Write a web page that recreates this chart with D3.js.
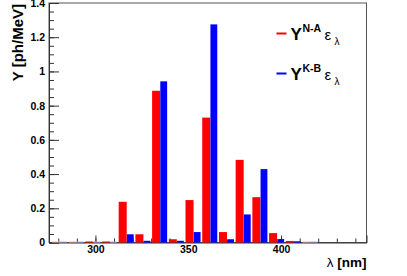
<!DOCTYPE html>
<html>
<head>
<meta charset="utf-8">
<script src="https://cdn.jsdelivr.net/npm/d3@7"></script>
<style>
  html, body { margin: 0; padding: 0; background: #fff; }
  text { font-family: "Liberation Sans", Arial, sans-serif; }
</style>
</head>
<body>
<div id="chart"></div>
<script>
// bin low edges (nm), 9 nm wide
const binLow = [275, 284, 293, 302, 311, 320, 329, 338, 347, 356, 365, 374, 383, 392, 401, 410]
const binWidth = 9

// Y^{N-A} eps_lambda and Y^{K-B} eps_lambda, ph/MeV
const yieldNA = [0, 0, 0.003, 0.003, 0.238, 0.048, 0.887, 0.019, 0.248, 0.73, 0.061, 0.483, 0.265, 0.055, 0.009, 0]
const yieldKB = [0, 0, 0, 0, 0.048, 0.01, 0.942, 0.01, 0.061, 1.275, 0.019, 0.164, 0.429, 0.02, 0.007, 0]

const xMajor = [300, 350, 400]
const yMajor = [0, 0.2, 0.4, 0.6, 0.8, 1, 1.2, 1.4]

const width = 407
const height = 276
const margin = { top: 3, right: 40.5, bottom: 33.5, left: 49 }

const x = d3.scaleLinear().domain([275, 446]).range([margin.left, width - margin.right])
const y = d3.scaleLinear().domain([0, 1.4]).range([height - margin.bottom, margin.top])

const svg = d3.select("#chart")
  .append("svg")
  .attr("width", width)
  .attr("height", height)

// frame
svg.append("rect")
  .attr("x", margin.left)
  .attr("y", margin.top)
  .attr("width", width - margin.right - margin.left)
  .attr("height", height - margin.bottom - margin.top)
  .attr("fill", "none")
  .attr("stroke", "#555")

// axes (ticks point inward like ROOT)
const yAxis = svg.append("g")
  .attr("transform", `translate(${margin.left},0)`)
  .call(d3.axisLeft(y).tickValues(yMajor).tickSize(-10).tickPadding(4)
    .tickFormat(d => d3.format("")(+d.toFixed(1))))
yAxis.selectAll("text").attr("font-size", 10.5).attr("font-weight", "bold").attr("fill", "#000")

svg.append("g")
  .attr("transform", `translate(${margin.left},0)`)
  .call(d3.axisLeft(y).tickValues(d3.range(0, 1.4001, 0.05)).tickSize(-5).tickFormat(""))
  .call(g => g.select(".domain").remove())

const xAxis = svg.append("g")
  .attr("transform", `translate(0,${height - margin.bottom})`)
  .call(d3.axisBottom(x).tickValues(xMajor).tickSize(-7).tickPadding(3))
xAxis.selectAll("text").attr("font-size", 10.5).attr("font-weight", "bold").attr("fill", "#000")

svg.append("g")
  .attr("transform", `translate(0,${height - margin.bottom})`)
  .call(d3.axisBottom(x).tickValues(d3.range(280, 441, 10)).tickSize(-4).tickFormat(""))
  .call(g => g.select(".domain").remove())

svg.selectAll(".domain, .tick line").attr("stroke", "#333")

// bars, side by side within each bin
const bw = x(275 + binWidth) - x(275)
const series = [
  { values: yieldNA, color: "#ff0000", faint: "#ffb4b4", offset: 0.17, w: 0.48 },
  { values: yieldKB, color: "#0000ff", faint: "#b4b4ff", offset: 0.66, w: 0.41 },
]

series.forEach(s => {
  svg.append("g")
    .selectAll("rect")
    .data(binLow.map((lo, i) => ({ lo, v: s.values[i] })))
    .join("rect")
    .attr("x", d => x(d.lo) + s.offset * bw)
    .attr("width", s.w * bw)
    .attr("y", d => d.v > 0 ? Math.min(y(d.v), y(0) - 1) : y(0) - 1)
    .attr("height", d => d.v > 0 ? Math.max(y(0) - y(d.v), 1) : 1)
    .attr("fill", d => d.v > 0 ? s.color : s.faint)
})

// axis titles
svg.append("text")
  .attr("transform", `translate(22.5,4) rotate(-90)`)
  .attr("text-anchor", "end")
  .attr("font-size", 15)
  .attr("font-weight", "bold")
  .text("Y [ph/MeV]")

const xt = svg.append("text")
  .attr("x", width - margin.right)
  .attr("y", 267)
  .attr("text-anchor", "end")
  .attr("font-size", 13.5)
xt.append("tspan").text("λ ")
xt.append("tspan").attr("font-weight", "bold").text("[nm]")

// legend
const legend = [
  { sup: "N-A", color: "#ff0000" },
  { sup: "K-B", color: "#0000ff" },
]
legend.forEach((d, i) => {
  const g = svg.append("g").attr("transform", `translate(0,${i * 40})`)
  g.append("line")
    .attr("x1", 276.5).attr("x2", 286.5)
    .attr("y1", 33.5).attr("y2", 33.5)
    .attr("stroke", d.color).attr("stroke-width", 2)
  g.append("text").attr("x", 290.5).attr("y", 39.5)
    .attr("font-size", 17).attr("font-weight", "bold").text("Y")
  g.append("text").attr("x", 302.5).attr("y", 31.5)
    .attr("font-size", 10.5).attr("font-weight", "bold").text(d.sup)
  g.append("text").attr("x", 324.5).attr("y", 40)
    .attr("font-size", 15).text("ε")
  g.append("text").attr("x", 334.5).attr("y", 45)
    .attr("font-size", 10).text("λ")
})
</script>
</body>
</html>
